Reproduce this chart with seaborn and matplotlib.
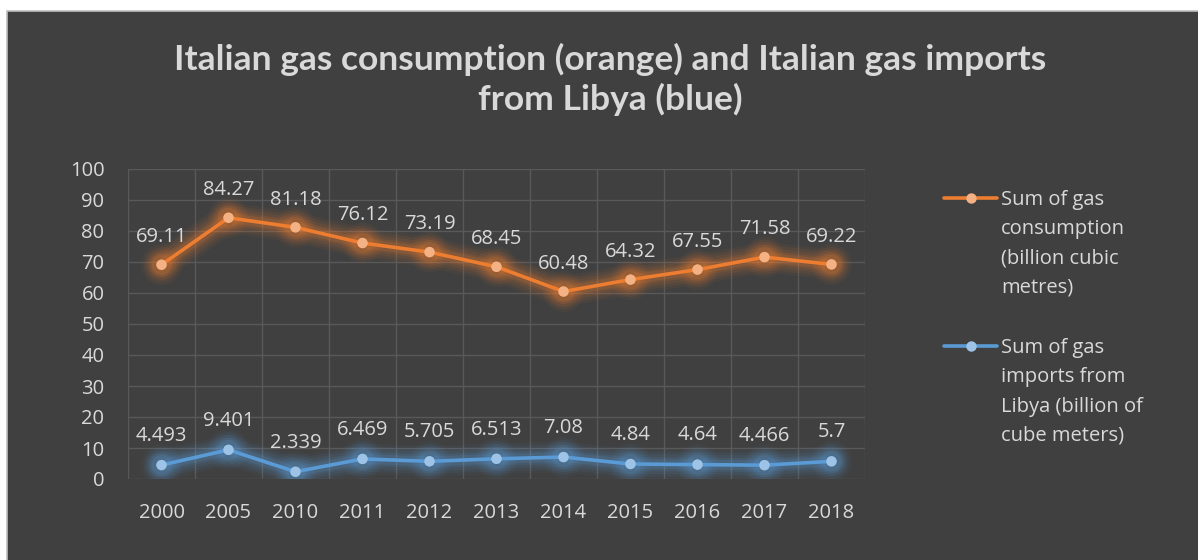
import matplotlib
matplotlib.use("Agg")
import matplotlib.pyplot as plt
import matplotlib.patheffects as pe
from matplotlib.patches import Rectangle
from matplotlib.lines import Line2D
import numpy as np
import pandas as pd
import seaborn as sns

years = ["2000", "2005", "2010", "2011", "2012", "2013", "2014", "2015", "2016", "2017", "2018"]
consumption = [69.11, 84.27, 81.18, 76.12, 73.19, 68.45, 60.48, 64.32, 67.55, 71.58, 69.22]
imports_libya = [4.493, 9.401, 2.339, 6.469, 5.705, 6.513, 7.08, 4.84, 4.64, 4.466, 5.7]
consumption_labels = ["69.11", "84.27", "81.18", "76.12", "73.19", "68.45", "60.48", "64.32", "67.55", "71.58", "69.22"]
imports_labels = ["4.493", "9.401", "2.339", "6.469", "5.705", "6.513", "7.08", "4.84", "4.64", "4.466", "5.7"]
y_ticks = [0, 10, 20, 30, 40, 50, 60, 70, 80, 90, 100]

title = "Italian gas consumption (orange) and Italian gas imports\nfrom Libya (blue)"
legend_labels = [
    "Sum of gas\nconsumption\n(billion cubic\nmetres)",
    "Sum of gas\nimports from\nLibya (billion of\ncube meters)",
]

PANEL = "#404040"
GRID = "#595959"
TEXT = "#D9D9D9"
ORANGE, ORANGE_LIGHT = "#ED7D31", "#F4B183"
BLUE, BLUE_LIGHT = "#5B9BD5", "#9DC3E6"

sns.set_theme(style="dark")
plt.rcParams["font.family"] = ["Open Sans", "DejaVu Sans"]

fig = plt.figure(figsize=(11.98, 5.6), dpi=100, facecolor="white")
fig.add_artist(Rectangle((7 / 1198, -0.01), 1.0, 1 - 11 / 560 + 0.01,
                         transform=fig.transFigure, facecolor=PANEL,
                         edgecolor="#BFBFBF", linewidth=1.2, zorder=-10))

ax = fig.add_axes([128 / 1198, 81 / 560, 737 / 1198, 310 / 560])
ax.set_facecolor("none")

df = pd.DataFrame({
    "pos": np.arange(len(years)),
    "consumption": consumption,
    "imports": imports_libya,
})


def glow(color):
    layers = []
    for w, a in [(22, 0.05), (18, 0.07), (14, 0.09), (10, 0.12), (7, 0.16)]:
        layers.append(pe.Stroke(linewidth=w, foreground=color, alpha=a))
    layers.append(pe.Normal())
    return layers


for col, color, light in [("consumption", ORANGE, ORANGE_LIGHT), ("imports", BLUE, BLUE_LIGHT)]:
    sns.lineplot(data=df, x="pos", y=col, ax=ax, color=color, linewidth=2.6,
                 marker="o", markersize=7.5, markerfacecolor=light,
                 markeredgewidth=0, path_effects=glow(color), zorder=3)

for i in range(len(years)):
    ax.annotate(consumption_labels[i], (df["pos"][i], consumption[i]),
                xytext=(0, 20), textcoords="offset points", ha="center",
                va="center", color=TEXT, fontsize=14.5)
    ax.annotate(imports_labels[i], (df["pos"][i], imports_libya[i]),
                xytext=(0, 21), textcoords="offset points", ha="center",
                va="center", color=TEXT, fontsize=14.5)

ax.set_xlim(-0.5, len(years) - 0.5)
ax.set_ylim(0, 100)
ax.set_xticks(df["pos"])
ax.set_xticklabels(years)
ax.set_xticks(np.arange(-0.5, len(years)), minor=True)
ax.set_yticks(y_ticks)
ax.set_yticklabels([str(v) for v in y_ticks])
ax.tick_params(axis="both", which="both", length=0, colors=TEXT, labelsize=14.5)
ax.tick_params(axis="y", pad=17)
ax.tick_params(axis="x", pad=17)
ax.grid(False)
ax.grid(True, axis="y", which="major", color=GRID, linewidth=1.0, zorder=0)
ax.grid(True, axis="x", which="minor", color=GRID, linewidth=1.0, zorder=0)
ax.set_axisbelow(True)
for s in ax.spines.values():
    s.set_visible(False)
ax.set_xlabel("")
ax.set_ylabel("")

fig.text(610 / 1198, 1 - 79 / 560, title, ha="center", va="center",
         fontsize=25.5, fontweight="bold", color=TEXT, linespacing=1.25,
         family=["Lato", "DejaVu Sans"])

# legend: handle aligned with the first line of each entry
entries = [(198, ORANGE, ORANGE_LIGHT, legend_labels[0]),
           (346, BLUE, BLUE_LIGHT, legend_labels[1])]
for ytop, color, light, text in entries:
    yf = 1 - ytop / 560
    fig.add_artist(Line2D([944 / 1198, 997 / 1198], [yf, yf], transform=fig.transFigure,
                          color=color, linewidth=2.6, solid_capstyle="round"))
    fig.add_artist(Line2D([970.5 / 1198], [yf], transform=fig.transFigure,
                          marker="o", markersize=7.5, markerfacecolor=light,
                          markeredgewidth=0, linestyle="none"))
    fig.text(1001 / 1198, yf + 8 / 560, text, ha="left", va="top", color=TEXT,
             fontsize=14.5, linespacing=1.62)

fig.savefig("out.png", dpi=100, facecolor="white")
